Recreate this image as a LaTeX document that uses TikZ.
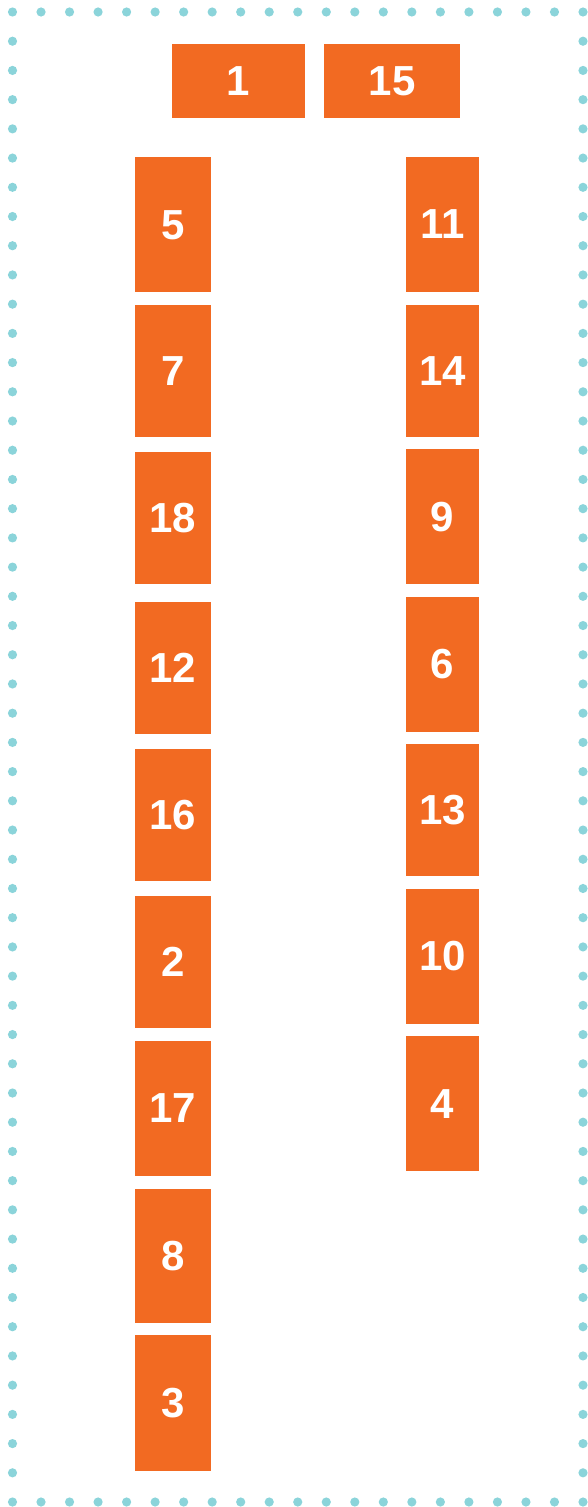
\documentclass[tikz,border=0pt]{standalone}
\usepackage{fontspec}
\setmainfont{Liberation Sans}
\definecolor{boxorange}{HTML}{F26A22}
\definecolor{dotteal}{HTML}{8BD4DA}
\tikzset{
  box/.style={fill=boxorange, draw=none, inner sep=0pt, outer sep=0pt,
    text=white, font=\fontsize{42}{42}\selectfont\bfseries},
  wbox/.style={box, minimum width=133pt, minimum height=73.5pt},
  lbox/.style={box, minimum width=76pt},
  rbox/.style={box, minimum width=73.6pt},
  borderdot/.style={fill=dotteal, draw=none}
}
\begin{document}
\begin{tikzpicture}[x=1pt,y=-1pt]
\useasboundingbox (0,0) rectangle (588,1507);
% dotted frame
\foreach \i in {0,...,20} {
  \fill[borderdot] (12.5+\i*28.525,12) circle (4.6);
  \fill[borderdot] (12.5+\i*28.525,1502) circle (4.6);
}
\foreach \i in {1,...,50} {
  \fill[borderdot] (12.5,12+\i*29.216) circle (4.6);
  \fill[borderdot] (583,12+\i*29.216) circle (4.6);
}
% top boxes
\node[wbox] (n1) at (238.5,80.8) {1};
\node[wbox, minimum width=135.7pt] (n15) at (392.2,80.8) {15};
% left column
\node[lbox, minimum height=135pt] (n5) at (173,224.8) {5};
\node[lbox, minimum height=132pt] (n7) at (173,370.7) {7};
\node[lbox, minimum height=132pt] (n18) at (173,518) {18};
\node[lbox, minimum height=132pt] (n12) at (173,668) {12};
\node[lbox, minimum height=132pt] (n16) at (173,815.3) {16};
\node[lbox, minimum height=132.3pt] (n2) at (173,962.2) {2};
\node[lbox, minimum height=135pt] (n17) at (173,1108.5) {17};
\node[lbox, minimum height=134.6pt] (n8) at (173,1256) {8};
\node[lbox, minimum height=135.4pt] (n3) at (173,1403) {3};
% right column
\node[rbox, minimum height=135pt] (n11) at (442.5,224.5) {11};
\node[rbox, minimum height=132pt] (n14) at (442.5,370.7) {14};
\node[rbox, minimum height=134.7pt] (n9) at (442.5,516.7) {9};
\node[rbox, minimum height=135pt] (n6) at (442.5,664.2) {6};
\node[rbox, minimum height=131.7pt] (n13) at (442.5,810.2) {13};
\node[rbox, minimum height=135pt] (n10) at (442.5,956.5) {10};
\node[rbox, minimum height=135.3pt] (n4) at (442.5,1103.7) {4};
\end{tikzpicture}
\end{document}
